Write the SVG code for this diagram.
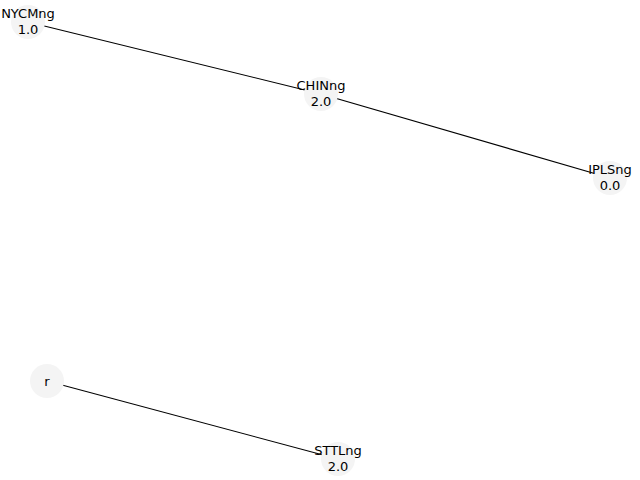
<svg xmlns="http://www.w3.org/2000/svg" width="640" height="480" viewBox="0 0 640 480">
<style>
.n{fill:#f4f4f4;stroke:none}
.e{stroke:#000;stroke-width:1.1;fill:none}
text{font-family:"DejaVu Sans",sans-serif;font-size:13px;fill:#000;text-anchor:middle}
</style>
<rect width="640" height="480" fill="#fff"/>
<g id="edges">
<line class="e" x1="28" y1="22" x2="321" y2="94"/>
<line class="e" x1="321" y1="94" x2="610" y2="178"/>
<line class="e" x1="47" y1="381" x2="338" y2="459"/>
</g>
<g id="NYCMng"><circle class="n" cx="28" cy="22" r="17"/><text x="28" y="18">NYCMng</text><text x="28" y="34">1.0</text></g>
<g id="CHINng"><circle class="n" cx="321" cy="94" r="17"/><text x="321" y="90">CHINng</text><text x="321" y="106">2.0</text></g>
<g id="IPLSng"><circle class="n" cx="610" cy="178" r="17"/><text x="610" y="174">IPLSng</text><text x="610" y="190">0.0</text></g>
<g id="r"><circle class="n" cx="47" cy="381" r="17"/><text x="47" y="386">r</text></g>
<g id="STTLng"><circle class="n" cx="338" cy="459" r="17"/><text x="338" y="455">STTLng</text><text x="338" y="471">2.0</text></g>
</svg>
